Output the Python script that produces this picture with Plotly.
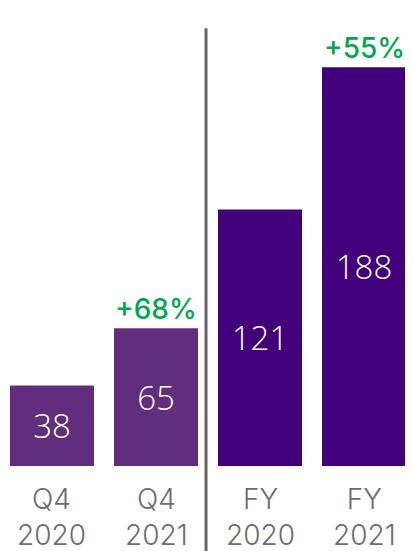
import plotly.graph_objects as go

periods = ["Q4", "Q4", "FY", "FY"]
years = ["2020", "2021", "2020", "2021"]
values = [38, 65, 121, 188]
growth_labels = ["", "+68%", "", "+55%"]
bar_colors = ["#622D7C", "#622D7C", "#42007A", "#42007A"]

x_pos = list(range(len(values)))

fig = go.Figure()
fig.add_trace(go.Bar(
    x=x_pos, y=values,
    width=0.808,
    marker=dict(color=bar_colors, line=dict(width=0)),
    text=[str(v) for v in values],
    textposition="inside",
    insidetextanchor="middle",
    textangle=0,
    textfont=dict(color="white", size=33, family="Open Sans", weight=300),
    hoverinfo="skip",
))

for xi, v, g in zip(x_pos, values, growth_labels):
    if g:
        fig.add_annotation(x=xi, y=v, text=g, showarrow=False,
                           yanchor="bottom", yshift=0,
                           font=dict(color="#00A651", size=28, family="Inter", weight=500))

label_font = dict(color="#6d6d6d", size=28, family="Inter", weight=300)
for xi, p, yr in zip(x_pos, periods, years):
    fig.add_annotation(x=xi, xref="x", y=-0.032, yref="paper",
                       text=p + "<br>" + yr, showarrow=False,
                       yanchor="top", borderpad=0, font=label_font)

fig.add_shape(type="line", xref="x", yref="paper",
              x0=1.481, x1=1.481, y0=-0.25, y1=0.956,
              line=dict(color="#666666", width=3))

fig.update_layout(
    width=413, height=551,
    margin=dict(l=0, r=0, t=0, b=93),
    plot_bgcolor="white", paper_bgcolor="white",
    showlegend=False,
    xaxis=dict(range=[-0.423, 3.548], showticklabels=False,
               showgrid=False, zeroline=False, showline=False, ticks=""),
    yaxis=dict(range=[0, 216], visible=False, showgrid=False, zeroline=False),
)

fig.write_html("out.html")
